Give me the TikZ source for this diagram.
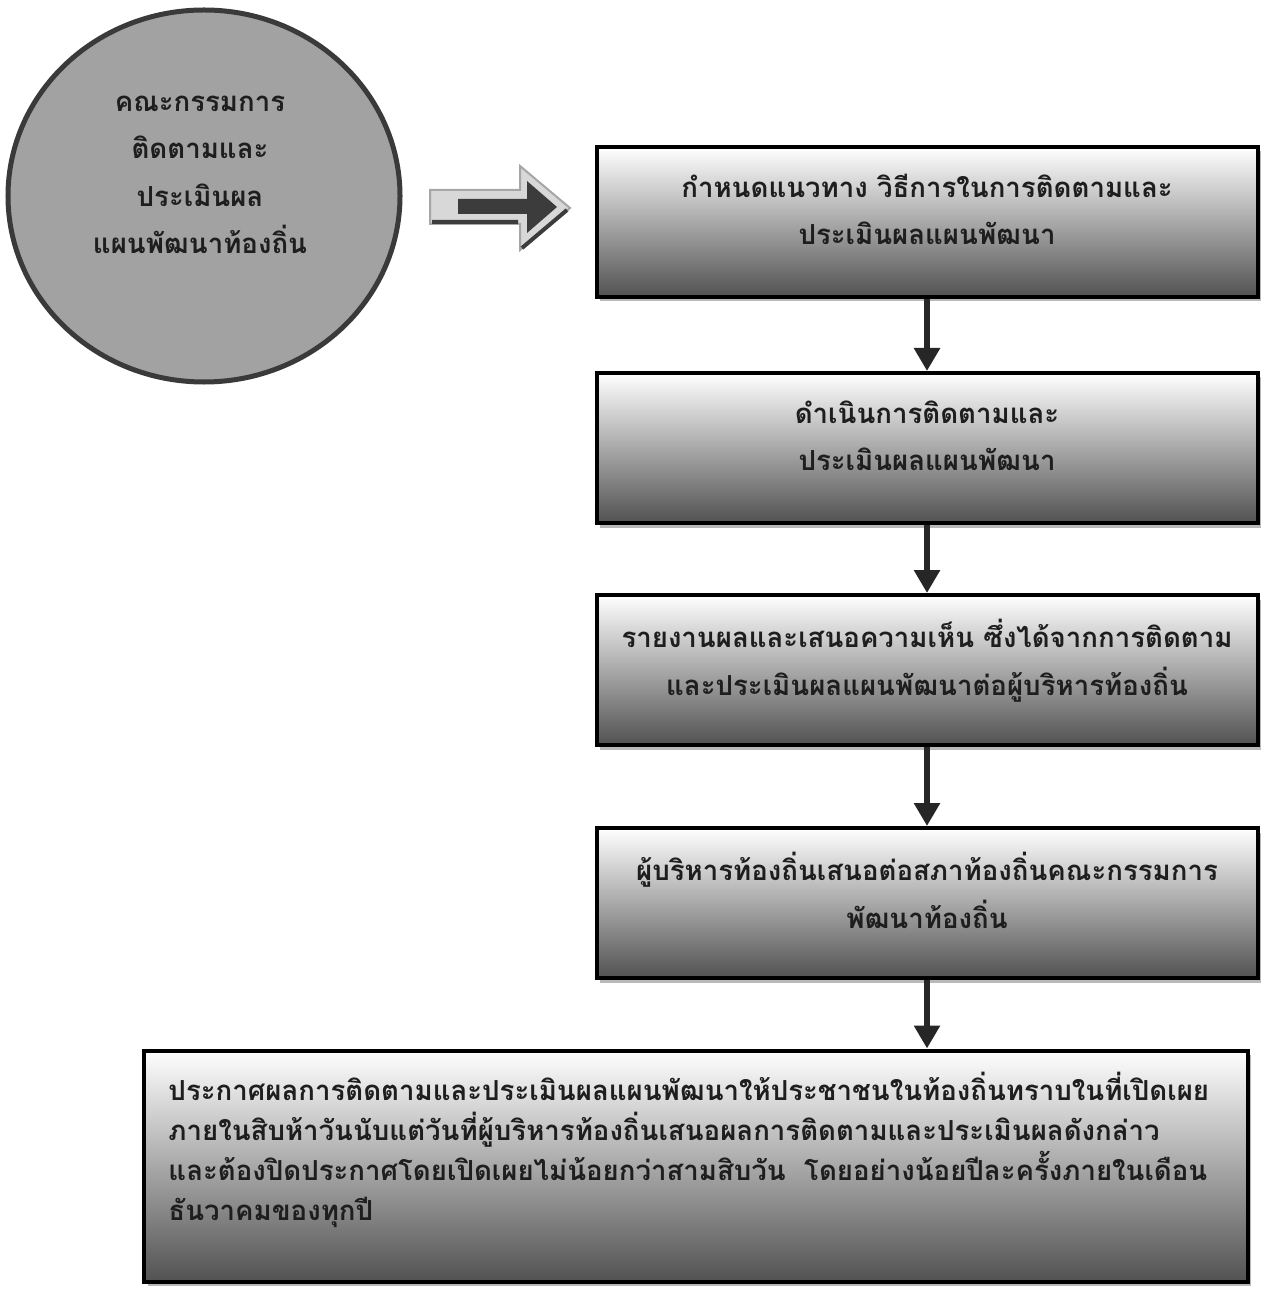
\documentclass[tikz,border=0pt]{standalone}
\usepackage{fontspec}
\newfontfamily\thaifont[Script=Thai]{Loma}
\usetikzlibrary{shapes.geometric,shadows,arrows.meta}
\definecolor{rimgray}{HTML}{3A3A3A}
\definecolor{discgray}{HTML}{A2A2A2}
\definecolor{inkgray}{HTML}{1E1E1E}
\definecolor{pointerlight}{HTML}{D8D8D8}
\definecolor{pointerdark}{HTML}{3C3C3C}

\tikzset{
    panel/.style={ellipse,draw=rimgray,line width=1mm,fill=discgray,inner sep=0,minimum width=7.84cm,minimum height=7.44cm},
    caption/.style={align=center,text=inkgray,font=\thaifont\bfseries\fontsize{15.7}{27}\selectfont},
    stage/.style={rectangle,draw=black,line width=0.8mm,top color=white,bottom color=black!68,
        drop shadow={shadow xshift=0.7mm,shadow yshift=-0.9mm,fill=black!55},
        minimum width=13.22cm,minimum height=3cm,inner sep=0,caption,
        execute at end node={\rule[-0.5cm]{0pt}{0pt}}},
    notice/.style={stage,minimum width=22.06cm,minimum height=4.62cm,align=left,text width=21.1cm,
        font=\thaifont\bfseries\fontsize{15.7}{22.8}\selectfont,
        execute at end node={\rule[-0.8cm]{0pt}{0pt}}},
    flow/.style={draw=black!85,line width=1.3mm,-{Triangle[length=4.6mm,width=5mm]}}
    }

\begin{document}
\begin{tikzpicture}[x=0.2mm,y=-0.2mm]
                \useasboundingbox (0,0) rectangle (1268,1304);
                % The committee
                \node(panel)[panel] at (204,196){};
                \node(paneltext)[caption] at (200,175){คณะกรรมการ\\ติดตามและ\\ประเมินผล\\แผนพัฒนาท้องถิ่น};
                % The pointer
                \filldraw[fill=pointerlight,draw=black!35,line width=0.4mm]
                    (430,190) -- (520,190) -- (520,166) -- (570,208) -- (520,250) -- (520,224) -- (430,224) -- cycle;
                \draw[pointerdark,line width=0.8mm] (432,222) -- (518,222) (522,248) -- (567,210);
                \fill[pointerdark]
                    (458,199) -- (527,199) -- (527,181) -- (557,207) -- (527,233) -- (527,214) -- (458,214) -- cycle;
                % The steps
                \node(define)[stage] at (927,222){กำหนดแนวทาง วิธีการในการติดตามและ\\ประเมินผลแผนพัฒนา};
                \node(conduct)[stage] at (927,448){ดำเนินการติดตามและ\\ประเมินผลแผนพัฒนา};
                \node(report)[stage] at (927,670){รายงานผลและเสนอความเห็น ซึ่งได้จากการติดตาม\\และประเมินผลแผนพัฒนาต่อผู้บริหารท้องถิ่น};
                \node(propose)[stage] at (927,903){ผู้บริหารท้องถิ่นเสนอต่อสภาท้องถิ่นคณะกรรมการ\\พัฒนาท้องถิ่น};
                \node(announce)[notice] at (696,1166){ประกาศผลการติดตามและประเมินผลแผนพัฒนาให้ประชาชนในท้องถิ่นทราบในที่เปิดเผย\\ภายในสิบห้าวันนับแต่วันที่ผู้บริหารท้องถิ่นเสนอผลการติดตามและประเมินผลดังกล่าว\\และต้องปิดประกาศโดยเปิดเผยไม่น้อยกว่าสามสิบวัน \ โดยอย่างน้อยปีละครั้งภายในเดือน\\ธันวาคมของทุกปี};
                % The arrows
                \draw[flow] (define) -- (conduct);
                \draw[flow] (conduct) -- (report);
                \draw[flow] (report) -- (propose);
                \draw[flow] (propose.south) -- (propose.south |- announce.north);
            \end{tikzpicture}
\end{document}
